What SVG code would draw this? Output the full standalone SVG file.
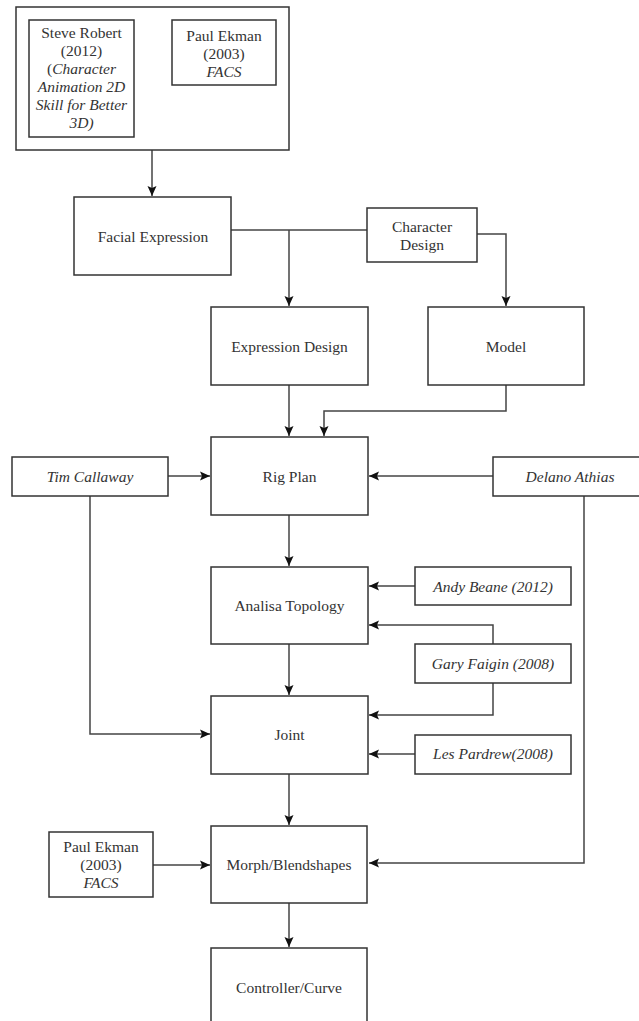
<svg xmlns="http://www.w3.org/2000/svg" width="639" height="1021" viewBox="0 0 639 1021">
<style>
.box{fill:#fff;stroke:#333;stroke-width:1.5}
.t{font-family:'Liberation Serif','DejaVu Serif',serif;font-size:15.5px;fill:#333;text-anchor:middle}
.i{font-style:italic}
.c{fill:none;stroke:#444;stroke-width:1.5}
</style>
<defs>
<marker id="ar" markerUnits="userSpaceOnUse" markerWidth="12" markerHeight="12" viewBox="0 0 12 12" refX="11" refY="6" orient="auto">
<path d="M1,1.5 L11,6 L1,10.5 L3,6 Z" fill="#111"/>
</marker>
</defs>
<g id="connectors">
<path class="c" d="M152,150 V196" marker-end="url(#ar)"/>
<path class="c" d="M231,230 H367"/>
<path class="c" d="M289,230 V306" marker-end="url(#ar)"/>
<path class="c" d="M477,234 H506 V306" marker-end="url(#ar)"/>
<path class="c" d="M289,385 V436" marker-end="url(#ar)"/>
<path class="c" d="M506,385 V411 H324 V436" marker-end="url(#ar)"/>
<path class="c" d="M168,476 H210" marker-end="url(#ar)"/>
<path class="c" d="M493,476 H369" marker-end="url(#ar)"/>
<path class="c" d="M289,515 V566" marker-end="url(#ar)"/>
<path class="c" d="M415,586 H369" marker-end="url(#ar)"/>
<path class="c" d="M493,644 V625 H369" marker-end="url(#ar)"/>
<path class="c" d="M493,683 V715 H369" marker-end="url(#ar)"/>
<path class="c" d="M415,754 H369" marker-end="url(#ar)"/>
<path class="c" d="M90,496 V734 H210" marker-end="url(#ar)"/>
<path class="c" d="M289,644 V695" marker-end="url(#ar)"/>
<path class="c" d="M289,774 V825" marker-end="url(#ar)"/>
<path class="c" d="M584,496 V863 H369" marker-end="url(#ar)"/>
<path class="c" d="M153,865 H210" marker-end="url(#ar)"/>
<path class="c" d="M289,903 V947" marker-end="url(#ar)"/>
</g>
<g id="sources">
<rect class="box" x="16" y="7" width="273" height="143"/>
</g>
<g id="steve-robert">
<rect class="box" x="29" y="20" width="105" height="117"/>
<text class="t" x="81.5" y="38">Steve Robert</text>
<text class="t" x="81.5" y="56">(2012)</text>
<text class="t" x="81.5" y="74">(<tspan class="i">Character</tspan></text>
<text class="t i" x="81.5" y="92">Animation 2D</text>
<text class="t i" x="81.5" y="110">Skill for Better</text>
<text class="t i" x="81.5" y="128">3D)</text>
</g>
<g id="paul-ekman-1">
<rect class="box" x="172" y="20" width="104" height="65"/>
<text class="t" x="224" y="41">Paul Ekman</text>
<text class="t" x="224" y="59">(2003)</text>
<text class="t i" x="224" y="77">FACS</text>
</g>
<g id="facial-expression">
<rect class="box" x="74" y="197" width="157" height="78"/>
<text class="t" x="153" y="242">Facial Expression</text>
</g>
<g id="character-design">
<rect class="box" x="367" y="208" width="110" height="54"/>
<text class="t" x="422" y="232">Character</text>
<text class="t" x="422" y="250">Design</text>
</g>
<g id="expression-design">
<rect class="box" x="211" y="307" width="157" height="78"/>
<text class="t" x="289.5" y="352">Expression Design</text>
</g>
<g id="model">
<rect class="box" x="428" y="307" width="156" height="78"/>
<text class="t" x="506" y="352">Model</text>
</g>
<g id="rig-plan">
<rect class="box" x="211" y="437" width="157" height="78"/>
<text class="t" x="289.5" y="482">Rig Plan</text>
</g>
<g id="tim-callaway">
<rect class="box" x="12" y="457" width="156" height="39"/>
<text class="t i" x="90" y="482">Tim Callaway</text>
</g>
<g id="delano-athias">
<rect class="box" x="493" y="457" width="150" height="39"/>
<text class="t i" x="570" y="482">Delano Athias</text>
</g>
<g id="analisa-topology">
<rect class="box" x="211" y="567" width="157" height="77"/>
<text class="t" x="289.5" y="611">Analisa Topology</text>
</g>
<g id="andy-beane">
<rect class="box" x="415" y="567" width="156" height="38"/>
<text class="t i" x="493" y="592">Andy Beane (2012)</text>
</g>
<g id="gary-faigin">
<rect class="box" x="415" y="644" width="156" height="39"/>
<text class="t i" x="493" y="669">Gary Faigin (2008)</text>
</g>
<g id="joint">
<rect class="box" x="211" y="696" width="157" height="78"/>
<text class="t" x="289.5" y="740">Joint</text>
</g>
<g id="les-pardrew">
<rect class="box" x="415" y="735" width="156" height="39"/>
<text class="t i" x="493" y="759">Les Pardrew(2008)</text>
</g>
<g id="paul-ekman-2">
<rect class="box" x="49" y="832" width="104" height="65"/>
<text class="t" x="101" y="852">Paul Ekman</text>
<text class="t" x="101" y="870">(2003)</text>
<text class="t i" x="101" y="888">FACS</text>
</g>
<g id="morph-blendshapes">
<rect class="box" x="211" y="826" width="156" height="77"/>
<text class="t" x="289" y="870">Morph/Blendshapes</text>
</g>
<g id="controller-curve">
<rect class="box" x="211" y="948" width="156" height="80"/>
<text class="t" x="289" y="993">Controller/Curve</text>
</g>
</svg>
